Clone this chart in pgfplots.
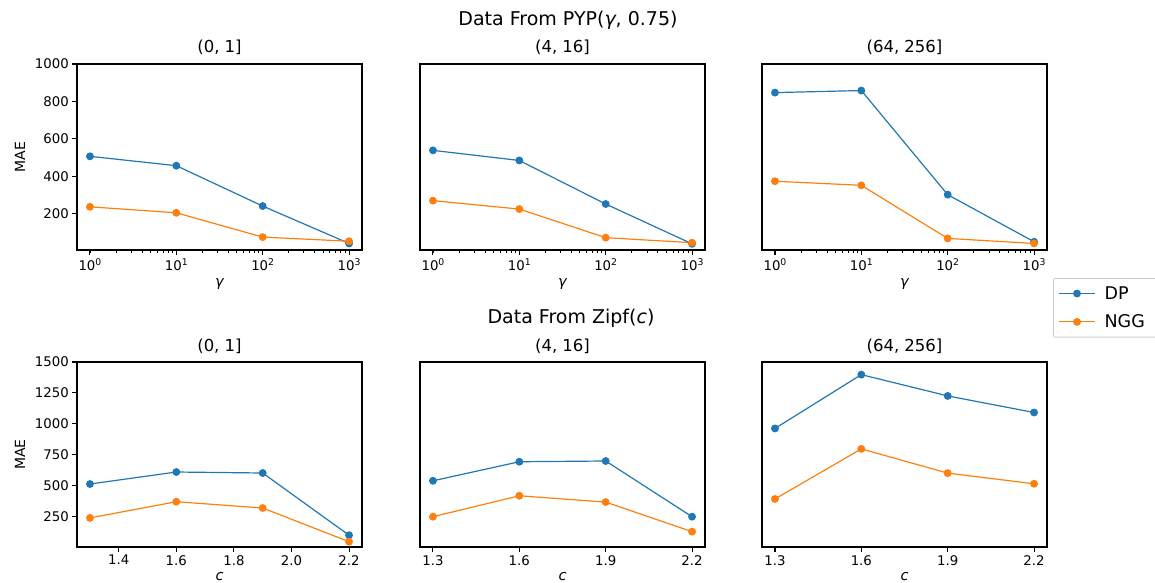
\documentclass[border=0pt]{standalone}
\usepackage{fontspec}
\setmainfont{DejaVu Sans}
\usepackage{pgfplots}
\usepackage{pgfplotstable}
\pgfplotsset{compat=1.18}

\definecolor{tabblue}{HTML}{1F77B4}
\definecolor{taborange}{HTML}{FF7F0E}

\newcommand\fs[1]{\fontsize{#1}{#1}\selectfont}
\newcommand\tp[1]{10\raisebox{0.44em}{\fs{9.3}#1}}

% MAE, gamma = 1, 10, 100, 1000
\pgfplotstableread{
g    dp1 ngg1 dp2 ngg2 dp3 ngg3
1    506 236  538 269  847 373
10   456 204  484 224  858 351
100  240 74   251 71   301 67
1000 40  52   38  44   49  40
}\pyp

% MAE, c = 1.3 ... 2.2
\pgfplotstableread{
c   dp1 ngg1 dp2 ngg2 dp3  ngg3
1.3 514 240  540 250  963  393
1.6 611 371  694 419  1398 798
1.9 603 320  700 368  1226 602
2.2 100 48   250 129  1092 516
}\zipf

\pgfplotsset{
  panel/.style={
    scale only axis, width=285pt, anchor=south west,
    axis line style={line width=1.07pt},
    tick align=outside, tick pos=left,
    major tick length=4.7pt, minor tick length=2.7pt,
    major tick style={black, line width=1.07pt},
    minor tick style={black, line width=0.8pt},
    ticklabel style={font=\fs{13.3}},
    /pgf/number format/assume math mode=true,
    /pgf/number format/1000 sep={},
    title style={font=\fs{16.5}, at={(axis description cs:0.5,1)}, anchor=base, yshift=5pt},
    ylabel style={at={(axis description cs:-0.2,0.5)}, anchor=center},
  },
  toprow/.style={panel, height=186pt,
    xmin=0.708, xmax=1412.5,
    xtick={1,10,100,1000}, xticklabels={\tp{0},\tp{1},\tp{2},\tp{3}},
    ymin=5, ymax=1000,
    xlabel={\fs{14.5}\itshape γ},
    xlabel style={at={(axis description cs:0.5,0)}, anchor=base, inner sep=0pt, yshift=-36pt},
  },
  botrow/.style={panel, height=185pt,
    xmin=1.255, xmax=2.245,
    ymin=5, ymax=1500,
    xlabel={\fs{14.5}\itshape c},
    xlabel style={at={(axis description cs:0.5,0)}, anchor=base, inner sep=0pt, yshift=-33pt},
  },
  dp/.style={tabblue, line width=1.2pt, mark=*, mark size=3.3pt, mark options={solid, fill=tabblue}},
  ngg/.style={taborange, line width=1.2pt, mark=*, mark size=3.3pt, mark options={solid, fill=taborange}},
}

\begin{document}
\begin{tikzpicture}
\useasboundingbox (0,0) rectangle (1155pt,582pt);

\node[font=\fs{19}, anchor=base] at (568pt,556pt) {Data From PYP({\itshape γ}, 0.75)};
\node[font=\fs{19}, anchor=base] at (571pt,259pt) {Data From Zipf({\itshape c})};

% top row: PYP
\begin{semilogxaxis}[toprow, at={(77pt,332pt)}, title={(0, 1]}, ylabel={\fs{14}MAE},
  ytick={200,400,600,800,1000}]
\addplot[dp] table[x=g, y=dp1] {\pyp};
\addplot[ngg] table[x=g, y=ngg1] {\pyp};
\end{semilogxaxis}

\begin{semilogxaxis}[toprow, at={(420pt,332pt)}, title={(4, 16]}, ytick=\empty]
\addplot[dp] table[x=g, y=dp2] {\pyp};
\addplot[ngg] table[x=g, y=ngg2] {\pyp};
\end{semilogxaxis}

\begin{semilogxaxis}[toprow, at={(762pt,332pt)}, title={(64, 256]}, ytick=\empty,
  legend cell align=left,
  legend image code/.code={\draw[mark repeat=2, mark phase=2, #1] plot coordinates {(0pt,0pt) (18pt,0pt) (36pt,0pt)};},
  legend style={at={(axis description cs:1.021,-0.1505)}, anchor=north west,
    draw=black!20, fill=white, rounded corners=2pt, line width=0.8pt,
    font=\fs{17.5}, inner xsep=5pt, inner ysep=5pt, row sep=8pt,
    nodes={inner ysep=3pt, inner xsep=9pt}}]
\addplot[dp] table[x=g, y=dp3] {\pyp};
\addlegendentry{DP}
\addplot[ngg] table[x=g, y=ngg3] {\pyp};
\addlegendentry{NGG}
\end{semilogxaxis}

% bottom row: Zipf
\begin{axis}[botrow, at={(77pt,35pt)}, title={(0, 1]}, ylabel={\fs{14}MAE},
  xtick={1.4,1.6,1.8,2.0,2.2}, xticklabels={1.4,1.6,1.8,2.0,2.2},
  ytick={250,500,750,1000,1250,1500}]
\addplot[dp] table[x=c, y=dp1] {\zipf};
\addplot[ngg] table[x=c, y=ngg1] {\zipf};
\end{axis}

\begin{axis}[botrow, at={(420pt,35pt)}, title={(4, 16]}, ytick=\empty,
  xtick={1.3,1.6,1.9,2.2}, xticklabels={1.3,1.6,1.9,2.2}]
\addplot[dp] table[x=c, y=dp2] {\zipf};
\addplot[ngg] table[x=c, y=ngg2] {\zipf};
\end{axis}

\begin{axis}[botrow, at={(762pt,35pt)}, title={(64, 256]}, ytick=\empty,
  xtick={1.3,1.6,1.9,2.2}, xticklabels={1.3,1.6,1.9,2.2}]
\addplot[dp] table[x=c, y=dp3] {\zipf};
\addplot[ngg] table[x=c, y=ngg3] {\zipf};
\end{axis}
\end{tikzpicture}
\end{document}
